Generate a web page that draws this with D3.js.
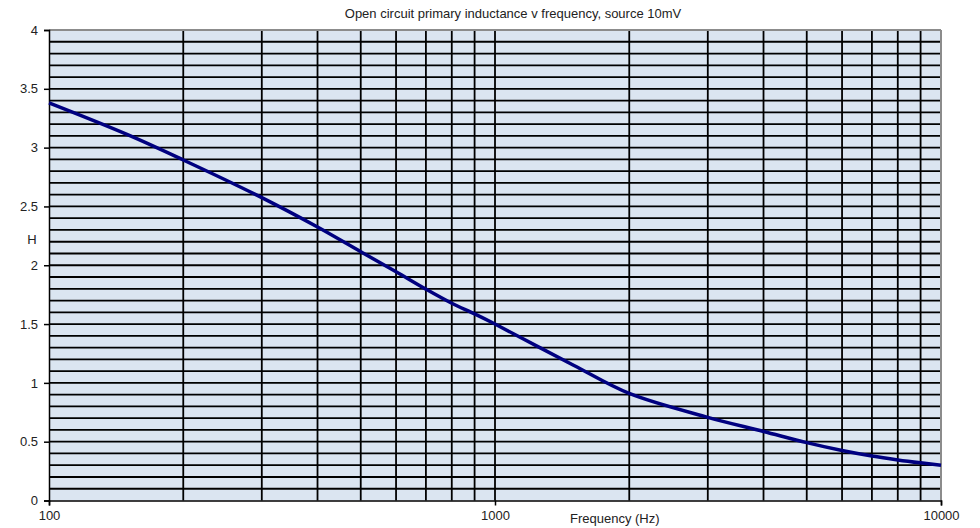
<!DOCTYPE html>
<html>
<head>
<meta charset="utf-8">
<script src="https://cdn.jsdelivr.net/npm/d3@7"></script>
<style>
  html, body { margin: 0; padding: 0; background: #fff; }
  svg { display: block; }
  text { font-family: "Liberation Sans", Arial, sans-serif; fill: #222; }
</style>
</head>
<body>
<svg id="chart" width="980" height="528"></svg>
<script>
const title = "Open circuit primary inductance v frequency, source 10mV";
const xLabel = "Frequency (Hz)";
const yLabel = "H";

const frequency = [100, 150, 200, 300, 400, 500, 600, 700, 800, 900, 1000, 1500, 2000, 3000, 4000, 5000, 6000, 7000, 8000, 9000, 10000];
const inductance = [3.38, 3.11, 2.895, 2.575, 2.325, 2.115, 1.945, 1.797, 1.677, 1.586, 1.50, 1.15, 0.91, 0.707, 0.587, 0.492, 0.425, 0.378, 0.345, 0.32, 0.30];

const xTickLabels = [100, 1000, 10000];
const yTickLabels = [0, 0.5, 1, 1.5, 2, 2.5, 3, 3.5, 4];
const xGridValues = [200, 300, 400, 500, 600, 700, 800, 900, 1000, 2000, 3000, 4000, 5000, 6000, 7000, 8000, 9000];
const yGridValues = d3.range(1, 40).map(i => i / 10);

const margin = { left: 49, right: 39, top: 30, bottom: 27.5 };
const W = 980, H = 528;
const svg = d3.select("#chart");

const x = d3.scaleLog().domain([100, 10000]).range([margin.left, W - margin.right]);
const y = d3.scaleLinear().domain([0, 4]).range([H - margin.bottom, margin.top]);

// plot background
svg.append("rect")
  .attr("x", x(100)).attr("y", y(4))
  .attr("width", x(10000) - x(100)).attr("height", y(0) - y(4))
  .attr("fill", "#dbe5f1");

// horizontal gridlines
svg.append("g").selectAll("line").data(yGridValues).join("line")
  .attr("x1", x(100)).attr("x2", x(10000))
  .attr("y1", d => y(d)).attr("y2", d => y(d))
  .attr("stroke", "#000").attr("stroke-width", 1.8);

// vertical gridlines
svg.append("g").selectAll("line").data(xGridValues).join("line")
  .attr("x1", d => x(d)).attr("x2", d => x(d))
  .attr("y1", y(0)).attr("y2", y(4))
  .attr("stroke", "#000").attr("stroke-width", 1.8);

// top and right borders (gray)
svg.append("line").attr("x1", x(100)).attr("x2", x(10000)).attr("y1", y(4)).attr("y2", y(4))
  .attr("stroke", "#8c8c8c").attr("stroke-width", 2);
svg.append("line").attr("x1", x(10000)).attr("x2", x(10000)).attr("y1", y(0)).attr("y2", y(4))
  .attr("stroke", "#8c8c8c").attr("stroke-width", 2);

// axes
const yAxis = d3.axisLeft(y).tickValues(yTickLabels).tickSize(5).tickPadding(6)
  .tickFormat(d => String(d));
const gy = svg.append("g").attr("transform", `translate(${x(100)},0)`).call(yAxis);
gy.select(".domain").attr("stroke", "#000").attr("stroke-width", 1.5);
gy.selectAll(".tick line").attr("stroke", "#000").attr("stroke-width", 1.5);
gy.selectAll("text").style("font-size", "13px").attr("fill", "#222");

const xAxis = d3.axisBottom(x).tickValues(xTickLabels).tickSize(5).tickPadding(5)
  .tickFormat(d => String(d));
const gx = svg.append("g").attr("transform", `translate(0,${y(0)})`).call(xAxis);
gx.select(".domain").attr("stroke", "#000").attr("stroke-width", 1.5);
gx.selectAll(".tick line").attr("stroke", "#000").attr("stroke-width", 1.5);
gx.selectAll("text").style("font-size", "13px").attr("fill", "#222");

// the curve
const line = d3.line()
  .x((d, i) => x(frequency[i]))
  .y(d => y(d))
  .curve(d3.curveCatmullRom.alpha(0.5));
svg.append("path").datum(inductance)
  .attr("d", line)
  .attr("fill", "none")
  .attr("stroke", "#000080")
  .attr("stroke-width", 3.5)
  .attr("stroke-linejoin", "round");

// labels
svg.append("text").attr("x", 513).attr("y", 18).attr("text-anchor", "middle")
  .style("font-size", "13px").text(title);
svg.append("text").attr("x", 570).attr("y", 523).attr("text-anchor", "start")
  .style("font-size", "13px").text(xLabel);
svg.append("text").attr("x", 32).attr("y", 244).attr("text-anchor", "middle")
  .style("font-size", "13px").text(yLabel);
</script>
</body>
</html>
